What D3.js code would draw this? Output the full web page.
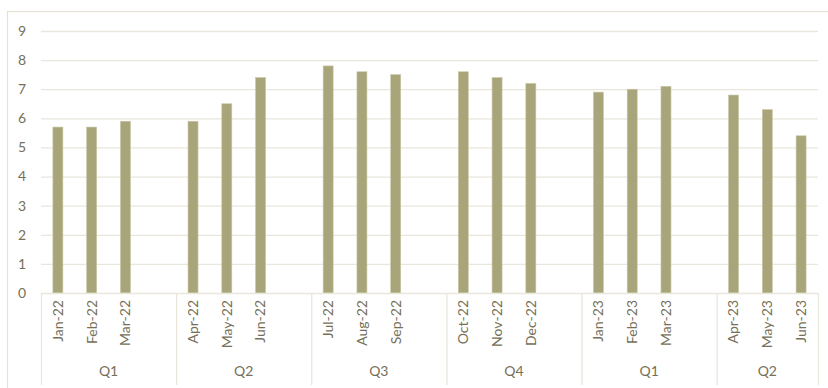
<!DOCTYPE html>
<html><head><meta charset="utf-8">
<script src="https://cdn.jsdelivr.net/npm/d3@7"></script>
<style>body{margin:0;background:#fff;} svg{display:block;font-family:Lato, "Open Sans", sans-serif;}</style>
</head><body><svg id="c" width="828" height="388"></svg>
<script>
const months = ["Jan-22","Feb-22","Mar-22","Apr-22","May-22","Jun-22","Jul-22","Aug-22","Sep-22","Oct-22","Nov-22","Dec-22","Jan-23","Feb-23","Mar-23","Apr-23","May-23","Jun-23"];
const quarters = ["Q1","Q2","Q3","Q4","Q1","Q2"];
const values = [5.7,5.7,5.9,5.9,6.5,7.4,7.8,7.6,7.5,7.6,7.4,7.2,6.9,7.0,7.1,6.8,6.3,5.4];
const yTicks = [0,1,2,3,4,5,6,7,8,9];

const svg = d3.select("#c");
const L = 41, R = 818, T = 31, B = 293;
const textColor = "#767058", gridColor = "#e9e6dc", barColor = "#a9a57a";

svg.append("rect").attr("x",7.5).attr("y",11.5).attr("width",840).attr("height",400)
  .attr("fill","none").attr("stroke","#e6e3d6").attr("stroke-width",1.2);

// slots: each quarter gets 3 months + 1 gap, except last
const slots = [];
months.forEach((m,i)=>{ const q=Math.floor(i/3); slots.push("s"+(q*4+(i%3))); });
const allSlots = d3.range(quarters.length*4-1).map(i=>"s"+i);
const x = d3.scaleBand().domain(allSlots).range([L,R]).padding(0);
const y = d3.scaleLinear().domain([0,9]).range([B,T]);

// grid
svg.append("g").selectAll("line").data(yTicks.filter(d=>d>0)).join("line")
  .attr("x1",L).attr("x2",R).attr("y1",d=>y(d)+0.5).attr("y2",d=>y(d)+0.5)
  .attr("stroke",gridColor).attr("stroke-width",1.3);

// y labels
svg.append("g").selectAll("text").data(yTicks).join("text")
  .attr("x",22).attr("y",d=>y(d)).attr("dy","0.35em").attr("text-anchor","middle")
  .attr("fill",textColor).attr("font-size",14).text(d=>d);

// bars
const bw = 10;
svg.append("g").selectAll("rect").data(values).join("rect")
  .attr("x",(d,i)=>x(slots[i])+x.bandwidth()/2-bw/2).attr("width",bw)
  .attr("y",d=>y(d)).attr("height",d=>B-y(d))
  .attr("fill",barColor).attr("stroke","#c9c6a6").attr("stroke-width",0.6);

// axis line
svg.append("line").attr("x1",L).attr("x2",R).attr("y1",B+0.5).attr("y2",B+0.5)
  .attr("stroke",gridColor).attr("stroke-width",1.3);

// separators
const seps = quarters.map((q,i)=>x("s"+(i*4))).concat([R]);
svg.append("g").selectAll("line").data(seps).join("line")
  .attr("x1",d=>d+0.5).attr("x2",d=>d+0.5).attr("y1",B).attr("y2",385)
  .attr("stroke",gridColor).attr("stroke-width",1.3);

// month labels
svg.append("g").selectAll("text").data(months).join("text")
  .attr("transform",(d,i)=>`translate(${x(slots[i])+x.bandwidth()/2},300) rotate(-90)`)
  .attr("text-anchor","end").attr("dy","0.35em")
  .attr("fill",textColor).attr("font-size",14).text(d=>d);

// quarter labels
svg.append("g").selectAll("text").data(quarters).join("text")
  .attr("x",(d,i)=>(seps[i]+seps[i+1])/2).attr("y",376)
  .attr("text-anchor","middle").attr("fill",textColor).attr("font-size",14).text(d=>d);
</script></body></html>
